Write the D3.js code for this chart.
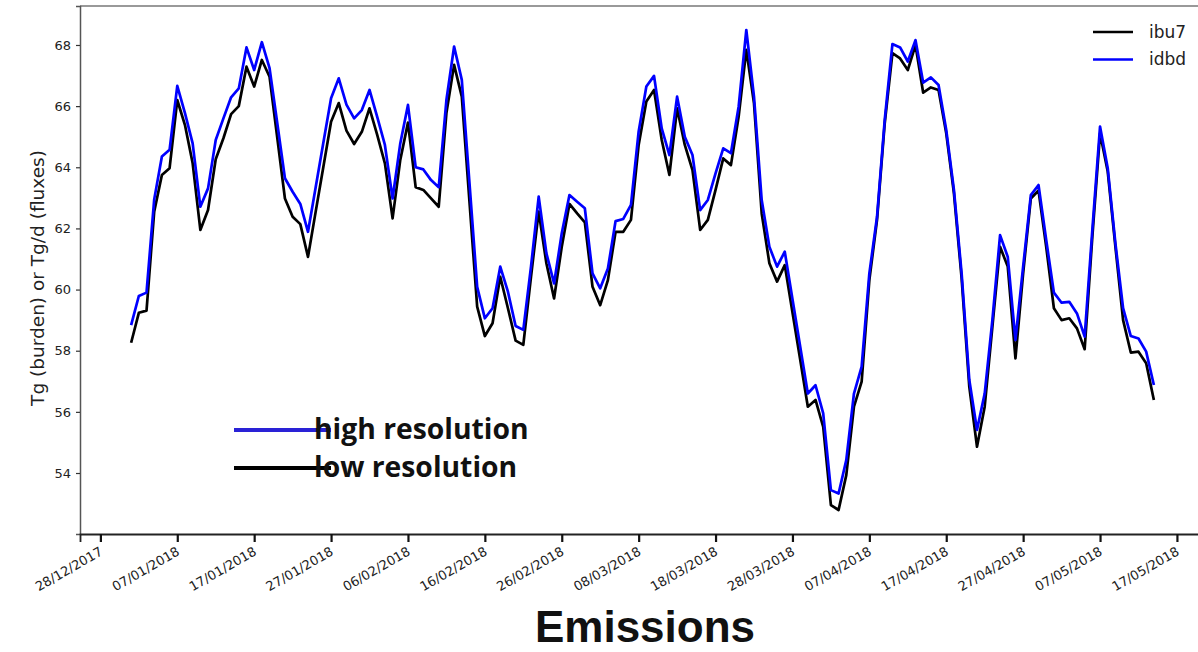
<!DOCTYPE html>
<html>
<head>
<meta charset="utf-8">
<script src="https://cdn.jsdelivr.net/npm/d3@7"></script>
<style>
  html, body { margin: 0; padding: 0; background: #fff; overflow: hidden; }
  svg { display: block; }
</style>
</head>
<body>
<svg id="chart" width="1198" height="652"></svg>
<script>
// Daily series, starting 01/01/2018 (one value per day)
const startDate = "01/01/2018";

const ibu7 = [
  58.26, 59.24, 59.31, 62.55, 63.75, 63.97, 66.20, 65.38, 64.13, 61.95,
  62.60, 64.26, 64.95, 65.74, 66.00, 67.29, 66.64, 67.51, 66.96, 64.97,
  62.98, 62.38, 62.14, 61.07, 62.55, 64.02, 65.49, 66.10, 65.20, 64.76,
  65.16, 65.93, 65.06, 64.13, 62.33, 64.24, 65.46, 63.35, 63.26, 62.98,
  62.71, 65.77, 67.35, 66.31, 62.87, 59.44, 58.48, 58.90, 60.42, 59.39,
  58.33, 58.19, 60.42, 62.55, 60.86, 59.71, 61.40, 62.80, 62.49, 62.20,
  60.09, 59.49, 60.31, 61.89, 61.89, 62.28, 64.73, 66.15, 66.53, 64.89,
  63.75, 65.93, 64.73, 63.91, 61.95, 62.28, 63.26, 64.29, 64.07, 65.65,
  67.84, 66.09, 62.49, 60.86, 60.26, 60.80, 59.26, 57.72, 56.17, 56.39,
  55.51, 52.95, 52.79, 53.93, 56.17, 56.99, 60.31, 62.28, 65.44, 67.73,
  67.56, 67.18, 68.00, 66.44, 66.61, 66.53, 65.11, 63.15, 60.37, 56.82,
  54.86, 56.17, 58.78, 61.40, 60.75, 57.75, 60.53, 62.98, 63.24, 61.40,
  59.39, 59.00, 59.06, 58.73, 58.05, 61.73, 65.11, 63.86, 61.40, 59.00,
  57.94, 57.97, 57.59, 56.39
];

const idbd = [
  58.84, 59.79, 59.90, 62.95, 64.35, 64.57, 66.66, 65.77, 64.78, 62.71,
  63.31, 64.89, 65.60, 66.29, 66.58, 67.92, 67.18, 68.09, 67.24, 65.45,
  63.64, 63.20, 62.80, 61.89, 63.35, 64.81, 66.26, 66.91, 66.05, 65.60,
  65.87, 66.53, 65.65, 64.73, 62.98, 64.78, 66.04, 64.00, 63.93, 63.58,
  63.35, 66.20, 67.95, 66.86, 63.48, 60.09, 59.06, 59.39, 60.75, 59.93,
  58.81, 58.68, 60.75, 63.04, 61.19, 60.20, 61.84, 63.09, 62.87, 62.66,
  60.53, 60.04, 60.69, 62.24, 62.31, 62.77, 65.17, 66.64, 66.99, 65.27,
  64.40, 66.31, 65.00, 64.40, 62.60, 62.93, 63.80, 64.62, 64.46, 65.98,
  68.49, 66.31, 62.93, 61.40, 60.75, 61.24, 59.69, 58.15, 56.60, 56.87,
  55.95, 53.44, 53.33, 54.42, 56.60, 57.48, 60.53, 62.38, 65.55, 68.03,
  67.92, 67.46, 68.16, 66.77, 66.94, 66.69, 65.22, 63.26, 60.53, 57.04,
  55.41, 56.60, 59.00, 61.78, 61.07, 58.35, 60.75, 63.09, 63.42, 61.62,
  59.90, 59.57, 59.60, 59.22, 58.46, 61.95, 65.33, 63.97, 61.51, 59.39,
  58.48, 58.40, 57.97, 56.88
];

const xTickLabels = [
  "28/12/2017", "07/01/2018", "17/01/2018", "27/01/2018", "06/02/2018",
  "16/02/2018", "26/02/2018", "08/03/2018", "18/03/2018", "28/03/2018",
  "07/04/2018", "17/04/2018", "27/04/2018", "07/05/2018", "17/05/2018"
];
const yTickValues = [54, 56, 58, 60, 62, 64, 66, 68];

const seriesNames = ["ibu7", "idbd"];
const seriesColors = ["#000000", "#0000ff"];
const noteLabels = ["high resolution", "low resolution"];
const noteColors = ["#2a22d6", "#000000"];
const yLabel = "Tg (burden) or Tg/d (fluxes)";
const title = "Emissions";

// ---- layout ----
const parseDate = d3.utcParse("%d/%m/%Y");
const fmtDate = d3.utcFormat("%d/%m/%Y");
const t0 = parseDate(startDate);
const dates = ibu7.map((_, i) => d3.utcDay.offset(t0, i));

// the axes box runs a little past the right edge of the page
const plot = { left: 80, right: 1205, top: 6, bottom: 534 };

const svg = d3.select("#chart");

// 5% padding on each side of the data extents
const tMin = +dates[0], tMax = +dates[dates.length - 1];
const tPad = (tMax - tMin) * 0.05;
const x = d3.scaleUtc()
  .domain([new Date(tMin - tPad), new Date(tMax + tPad)])
  .range([plot.left, plot.right]);

const allVals = ibu7.concat(idbd);
const vMin = d3.min(allVals), vMax = d3.max(allVals);
const vPad = (vMax - vMin) * 0.05;
const y = d3.scaleLinear()
  .domain([vMin - vPad, vMax + vPad])
  .range([plot.bottom, plot.top]);

// ---- series lines ----
const line = d3.line()
  .x((d, i) => x(dates[i]))
  .y(d => y(d));

[ibu7, idbd].forEach((vals, k) => {
  svg.append("path")
    .datum(vals)
    .attr("fill", "none")
    .attr("stroke", seriesColors[k])
    .attr("stroke-width", 2.7)
    .attr("stroke-linejoin", "round")
    .attr("d", line);
});

// ---- frame ----
svg.append("line").attr("x1", plot.left).attr("x2", plot.right)
  .attr("y1", plot.top).attr("y2", plot.top)
  .attr("stroke", "#777").attr("stroke-width", 1.5);

// ---- y axis ----
const yAxis = d3.axisLeft(y).tickValues(yTickValues).tickSize(4).tickPadding(5)
  .tickFormat(d3.format("d"));
const gy = svg.append("g").attr("transform", `translate(${plot.left},0)`).call(yAxis);
gy.select(".domain").attr("stroke", "#555").attr("stroke-width", 1.5);
gy.selectAll(".tick line").attr("stroke", "#333").attr("stroke-width", 1.2);
gy.selectAll(".tick text")
  .attr("font-family", "DejaVu Sans")
  .attr("font-size", 13)
  .attr("fill", "#222");

// ---- x axis ----
const xTicks = xTickLabels.map(parseDate);
const xAxis = d3.axisBottom(x).tickValues(xTicks).tickSize(8)
  .tickFormat(fmtDate);
const gx = svg.append("g").attr("transform", `translate(0,${plot.bottom})`).call(xAxis);
gx.select(".domain").attr("stroke", "#222").attr("stroke-width", 1.8);
gx.selectAll(".tick line").attr("stroke", "#111").attr("stroke-width", 2.2);
gx.selectAll(".tick text")
  .attr("font-family", "DejaVu Sans")
  .attr("font-size", 13)
  .attr("fill", "#222")
  .attr("text-anchor", "end")
  .attr("y", 0).attr("dy", "0.72em")
  .attr("transform", "translate(-2,12) rotate(-30)");

// ---- y label ----
svg.append("text")
  .attr("transform", `translate(37,${(plot.top + plot.bottom) / 2 + 8}) rotate(-90)`)
  .attr("text-anchor", "middle")
  .attr("dominant-baseline", "central")
  .attr("font-family", "DejaVu Sans")
  .attr("font-size", 18.5)
  .attr("fill", "#222")
  .text(yLabel);

// ---- legend (top right) ----
const lg = svg.append("g");
seriesNames.forEach((name, k) => {
  const ly = 32 + k * 27.5;
  lg.append("line")
    .attr("x1", 1093).attr("x2", 1133).attr("y1", ly).attr("y2", ly)
    .attr("stroke", seriesColors[k]).attr("stroke-width", 2.6);
  lg.append("text")
    .attr("x", 1149).attr("y", ly).attr("dy", "0.35em")
    .attr("font-family", "DejaVu Sans").attr("font-size", 17)
    .attr("fill", "#222")
    .text(name);
});

// ---- resolution notes ----
const ng = svg.append("g");
noteLabels.forEach((lbl, k) => {
  const ly = 430 + k * 38;
  ng.append("line")
    .attr("x1", 234).attr("x2", 331).attr("y1", ly).attr("y2", ly)
    .attr("stroke", noteColors[k]).attr("stroke-width", 4);
  ng.append("text")
    .attr("x", 314).attr("y", ly + 8.5)
    .attr("font-family", "Open Sans").attr("font-weight", 700)
    .attr("font-size", 28.3).attr("fill", "#111")
    .text(lbl);
});

// ---- title ----
svg.append("text")
  .attr("x", 645).attr("y", 642)
  .attr("text-anchor", "middle")
  .attr("font-family", "Liberation Sans").attr("font-weight", 700)
  .attr("font-size", 44).attr("fill", "#111")
  .text(title);
</script>
</body>
</html>
